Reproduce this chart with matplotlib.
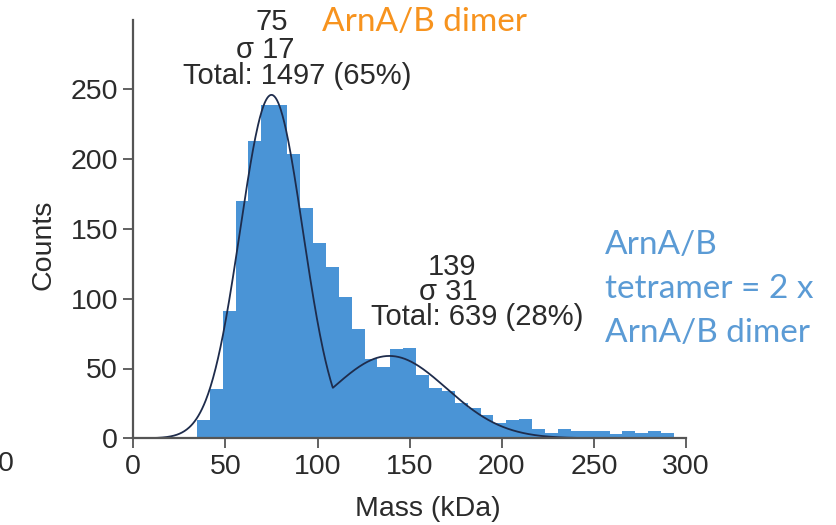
import numpy as np
import matplotlib
matplotlib.use("Agg")
import matplotlib.pyplot as plt

# histogram data, 7 kDa bins starting at 34.5 kDa
bin_start = 34.5
bin_width = 7
counts = [13, 35, 91, 170, 213, 239, 239, 204, 165, 140,
          123, 101, 78, 57, 51, 64, 65, 45, 36, 34,
          25, 22, 17, 11, 13, 14, 7, 4, 7, 5,
          5, 5, 3, 5, 4, 5, 4]

fit_means = [75, 139]
fit_sigmas = [17, 31]
fit_heights = [246, 59]

x_ticks = [0, 50, 100, 150, 200, 250, 300]
y_ticks = [0, 50, 100, 150, 200, 250]

bar_color = "#4A94D6"
line_color = "#1E2C4C"
txt_color = "#2B2B2B"
axis_color = "#555555"

plt.rcParams["font.family"] = ["Liberation Sans", "DejaVu Sans"]

W, H = 836, 525
fig = plt.figure(figsize=(W / 100, H / 100), dpi=100)
# axes box in pixels: x 133..686, y 19.5..438.3
ax = fig.add_axes([133.3 / W, 1 - 438.3 / H, (686 - 133.3) / W, (438.3 - 19.5) / H])

edges = bin_start + bin_width * np.arange(len(counts))
ax.bar(edges, counts, width=bin_width, align="edge", color=bar_color, linewidth=0)

xs = np.linspace(0, 300, 901)
curves = [h * np.exp(-(xs - m) ** 2 / (2 * s ** 2)) for m, s, h in zip(fit_means, fit_sigmas, fit_heights)]
ax.plot(xs, np.maximum(curves[0], curves[1]), color=line_color, lw=1.3)

ax.set_xlim(0, 300)
ax.set_ylim(0, 300)
ax.set_xticks(x_ticks)
ax.set_yticks(y_ticks)
for s in ["top", "right"]:
    ax.spines[s].set_visible(False)
for s in ["left", "bottom"]:
    ax.spines[s].set_color(axis_color)
    ax.spines[s].set_linewidth(1.6)
ax.tick_params(direction="out", length=7, width=1.3, color=axis_color,
               labelsize=20.5, labelcolor=txt_color, pad=4)

fig.text(43 / W, 1 - 245 / H, "Counts", rotation=90, ha="center", va="center",
         fontsize=20.5, color=txt_color)
fig.text(428 / W, 1 - 509 / H, "Mass (kDa)", ha="center", va="center",
         fontsize=20.5, color=txt_color)
# stray cropped tick label at the left edge
fig.text(6 / W, 1 - 464 / H, "0", ha="center", va="center", fontsize=20.5, color=txt_color)

# fit annotations
def ftxt(x, y, s):
    fig.text(x / W, 1 - y / H, s, ha="center", va="center", fontsize=21, color=txt_color)

ftxt(272, 22, "75")
ftxt(265, 50, "σ 17")
ftxt(297, 76, "Total: 1497 (65%)")
ftxt(452, 267, "139")
ftxt(448, 292, "σ 31")
ftxt(477, 317, "Total: 639 (28%)")

fig.text(322 / W, 1 - 22 / H, "ArnA/B dimer", ha="left", va="center",
         fontsize=24, color="#F7931E", family=["Lato", "DejaVu Sans"])
for yy, s in zip([245, 289, 333], ["ArnA/B", "tetramer = 2 x", "ArnA/B dimer"]):
    fig.text(605 / W, 1 - yy / H, s, ha="left", va="center",
             fontsize=24, color="#5B9BD5", family=["Lato", "DejaVu Sans"])

fig.savefig("out.png", dpi=100)
